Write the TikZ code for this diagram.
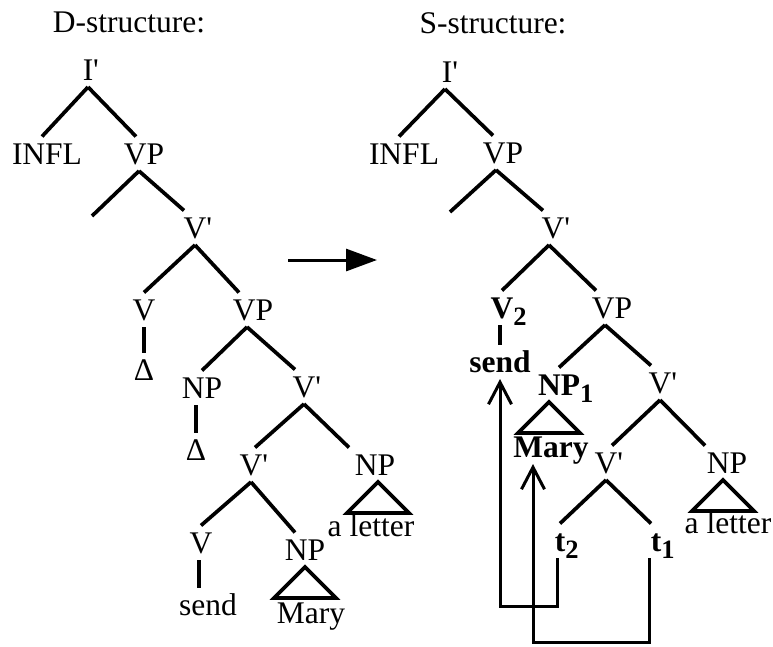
\documentclass[tikz,border=0pt]{standalone}
\usepackage{fontspec}
\setmainfont{Liberation Serif}[Ligatures=TeXOff]
\usetikzlibrary{arrows.meta}

\newcommand{\treefont}{\fontsize{31.5pt}{36pt}\selectfont}
\newcommand{\prm}{\rlap{'}}
\newcommand{\idx}[1]{\rlap{\raisebox{-7pt}{\fontsize{26.5pt}{30pt}\selectfont #1}}}

\tikzset{
 lbl/.style={inner sep=0pt, outer ysep=7pt, text height=20.5pt, text depth=0pt,
  anchor=base, font=\treefont},
 branch/.style={line width=3.7pt},
 move/.style={line width=3pt,
  -{Straight Barb[length=22pt,width=23pt,line width=3pt]}},
}

\begin{document}
\begin{tikzpicture}[x=1pt,y=-1pt]
 \useasboundingbox (0,0) rectangle (773,646);
 % titles
 \node[lbl] (dtitle) at (129,32) {D-structure:};
 \node[lbl] (stitle) at (493,33) {S-structure:};

 % D-structure
 \node[lbl] (Ia) at (88,80) {I\prm};
 \node[lbl] (INFLa) at (47,164) {INFL};
 \node[lbl] (VPa) at (144,164) {VP};
 \coordinate (ea) at (92,216);
 \node[lbl] (Vba) at (195,238) {V\prm};
 \node[lbl] (Va) at (144,320) {V};
 \node[lbl] (VPb) at (253,320) {VP};
 \node[lbl] (Da) at (144,380) {Δ};
 \node[lbl] (NPa) at (202,398) {NP};
 \node[lbl] (Vbb) at (304,397) {V\prm};
 \node[lbl] (Db) at (196,460) {Δ};
 \node[lbl] (Vbc) at (251,475) {V\prm};
 \node[lbl] (NPb) at (375,475) {NP};
 \node[lbl] (lettera) at (371,536) {a letter};
 \node[lbl] (Vc) at (201,553) {V};
 \node[lbl] (NPc) at (305,560) {NP};
 \node[lbl] (senda) at (208,615) {send};
 \node[lbl] (Marya) at (311,623) {Mary};

 \draw[branch] (Ia.south) -- ([xshift=-5pt]INFLa.north);
 \draw[branch] (Ia.south) -- ([xshift=-8pt]VPa.north);
 \draw[branch] ([xshift=-5pt]VPa.south) -- (ea);
 \draw[branch] ([xshift=-5pt]VPa.south) -- ([xshift=-11pt]Vba.north);
 \draw[branch] (Vba.south) -- (Va.north);
 \draw[branch] (Vba.south) -- ([xshift=-14pt]VPb.north);
 \draw[branch] (Va.south) -- (Da.north);
 \draw[branch] ([xshift=-6pt]VPb.south) -- (NPa.north);
 \draw[branch] ([xshift=-6pt]VPb.south) -- ([xshift=-9pt]Vbb.north);
 \draw[branch] ([xshift=-6pt]NPa.south) -- (Db.north);
 \draw[branch] (Vbb.south) -- ([xshift=4pt]Vbc.north);
 \draw[branch] (Vbb.south) -- ([xshift=-26pt]NPb.north);
 \draw[branch] ([xshift=3pt]NPb.south) -- ++(-31,31) -- ++(62,0) -- cycle;
 \draw[branch] (Vbc.south) -- (Vc.north);
 \draw[branch] (Vbc.south) -- ([xshift=-10pt]NPc.north);
 \draw[branch] ([xshift=-2pt]Vc.south) -- ([xshift=-9pt]senda.north);
 \draw[branch] (NPc.south) -- ++(-31,31) -- ++(62,0) -- cycle;

 % the arrow between the trees
 \coordinate (arrfrom) at (288,260);
 \coordinate (arrto) at (377,260);
 \draw[line width=3pt, -{Triangle[length=31pt,width=22pt]}] (arrfrom) -- (arrto);

 % S-structure
 \node[lbl] (Ib) at (447,82) {I\prm};
 \node[lbl] (INFLb) at (404,164) {INFL};
 \node[lbl] (VPc) at (503,163) {VP};
 \coordinate (eb) at (450,212);
 \node[lbl] (Vbd) at (553,238) {V\prm};
 \node[lbl] (V2) at (502,318) {\textbf{V\idx{2}}};
 \node[lbl] (VPd) at (612,318) {VP};
 \node[lbl] (sendb) at (500,372) {\textbf{send}};
 \node[lbl] (NP1) at (559,395) {\textbf{NP\idx{1}}};
 \node[lbl] (Vbe) at (660,393) {V\prm};
 \node[lbl] (Maryb) at (551,457) {\textbf{Mary}};
 \node[lbl] (Vbf) at (606,473) {V\prm};
 \node[lbl] (NPe) at (727,473) {NP};
 \node[lbl] (letterb) at (728,533) {a letter};
 \node[lbl] (t2) at (560,551) {\textbf{t\idx{2}}};
 \node[lbl] (t1) at (656,551) {\textbf{t\idx{1}}};

 \draw[branch] ([xshift=-2pt]Ib.south) -- ([xshift=-5pt]INFLb.north);
 \draw[branch] ([xshift=-2pt]Ib.south) -- ([xshift=-10pt]VPc.north);
 \draw[branch] ([xshift=-7pt]VPc.south) -- (eb);
 \draw[branch] ([xshift=-7pt]VPc.south) -- ([xshift=-10pt]Vbd.north);
 \draw[branch] ([xshift=-4pt]Vbd.south) -- (V2.north);
 \draw[branch] ([xshift=-4pt]Vbd.south) -- ([xshift=-16pt]VPd.north);
 \draw[branch] ([xshift=-2pt]V2.south) -- (sendb.north);
 \draw[branch] ([xshift=-7pt]VPd.south) -- (NP1.north);
 \draw[branch] ([xshift=-7pt]VPd.south) -- ([xshift=-9pt]Vbe.north);
 \draw[branch] ([xshift=-10pt]NP1.south) -- ++(-31,31) -- ++(62,0) -- cycle;
 \draw[branch] (Vbe.south) -- ([xshift=6pt]Vbf.north);
 \draw[branch] (Vbe.south) -- ([xshift=-22pt]NPe.north);
 \draw[branch] ([xshift=-4pt]NPe.south) -- ++(-31,31) -- ++(62,0) -- cycle;
 \draw[branch] (Vbf.south) -- (t2.north);
 \draw[branch] (Vbf.south) -- ([xshift=-5pt]t1.north);

 % movement
 \draw[move] ([xshift=-3pt]t2.south) -- ++(0,48) -| (sendb.south);
 \draw[move] ([xshift=-7pt]t1.south) -- ++(0,84) -| ([xshift=-18pt]Maryb.south);
\end{tikzpicture}
\end{document}
